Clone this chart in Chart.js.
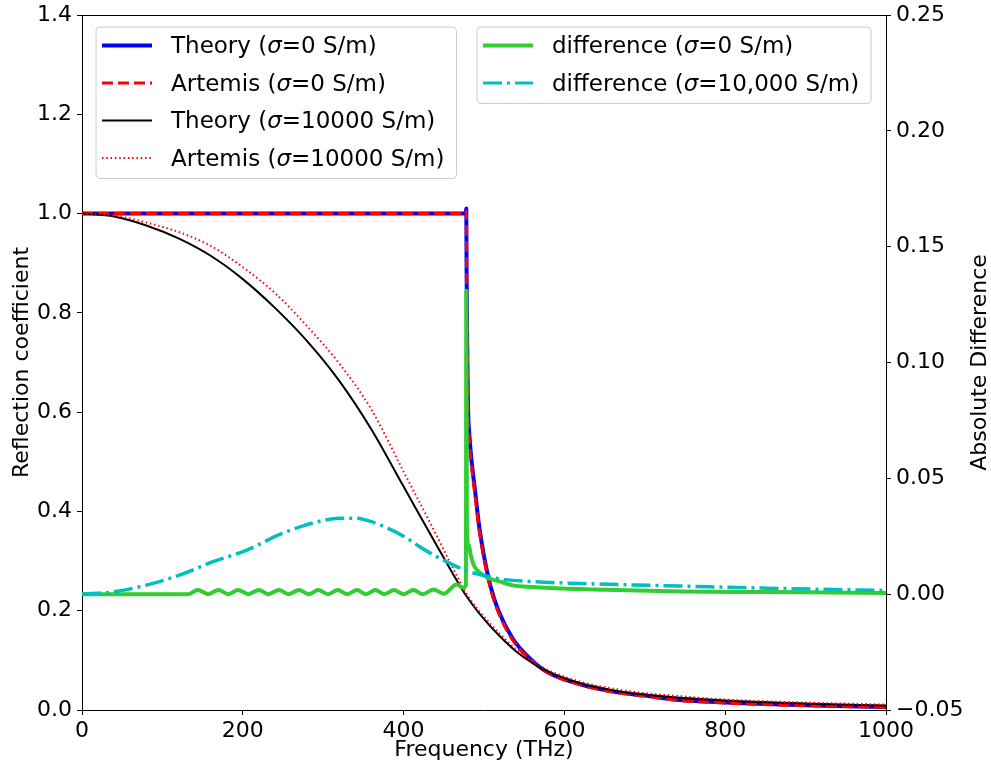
<!DOCTYPE html>
<html>
<head>
<meta charset="utf-8">
<script src="https://cdn.jsdelivr.net/npm/chart.js@4.4.0/dist/chart.umd.min.js"></script>
<style>
  body { margin: 0; background: #fff; }
  canvas { display: block; }
</style>
</head>
<body>
<canvas id="reflection" width="991" height="767"></canvas>
<script>
// --- data ---
var xTicks = [0, 200, 400, 600, 800, 1000];
var leftTicks = [0, 0.2, 0.4, 0.6, 0.8, 1.0, 1.2, 1.4];
var rightTicks = [-0.05, 0, 0.05, 0.1, 0.15, 0.2, 0.25];

// sigma = 0 S/m
var freqLossless = [0, 100, 200, 300, 400, 470, 477, 478, 478.3, 479, 480, 482, 485, 489, 494, 500, 508, 518, 536, 557, 578, 619, 661, 700, 744, 800, 850, 900, 950, 1000];
var theoryLossless = [1, 1, 1, 1, 1, 1, 1.0, 1.01, 0.9, 0.75, 0.62, 0.55, 0.495, 0.44, 0.37, 0.31, 0.25, 0.2, 0.143, 0.104, 0.077, 0.052, 0.037, 0.029, 0.02, 0.015, 0.012, 0.0095, 0.0075, 0.006];
var artemisLossless = [1, 1, 1, 1, 1, 1, 1.0, 1.005, 0.89, 0.74, 0.61, 0.54, 0.485, 0.43, 0.362, 0.305, 0.245, 0.196, 0.14, 0.102, 0.076, 0.051, 0.036, 0.028, 0.019, 0.014, 0.011, 0.009, 0.007, 0.0055];

// sigma = 10000 S/m
var freqLossy = [0, 40, 80, 120, 160, 200, 240, 280, 320, 360, 400, 440, 460, 480, 500, 520, 540, 560, 580, 620, 660, 700, 750, 800, 900, 1000];
var theoryLossy = [1.0, 0.994, 0.976, 0.95, 0.915, 0.868, 0.81, 0.743, 0.663, 0.565, 0.45, 0.335, 0.278, 0.225, 0.183, 0.148, 0.118, 0.095, 0.077, 0.054, 0.04, 0.031, 0.024, 0.019, 0.013, 0.009];
var artemisLossy = [1.0, 0.996, 0.982, 0.963, 0.935, 0.892, 0.84, 0.773, 0.698, 0.605, 0.48, 0.355, 0.29, 0.23, 0.188, 0.153, 0.122, 0.098, 0.08, 0.057, 0.043, 0.034, 0.027, 0.021, 0.015, 0.011];

// absolute difference, sigma = 0
var freqDiffLossless = [0, 132, 144, 157, 170, 182, 194, 207, 220, 232, 245, 257, 270, 282, 294, 306, 318, 330, 342, 353, 365, 376, 388, 400, 412, 424, 437, 450, 466, 474, 477.5, 478, 478.8, 481, 484, 488, 494, 500, 510, 520, 536, 560, 619, 650, 744, 850, 1000];
var diffLossless = [0, 0, 0.0018, 0, 0.0018, 0, 0.0018, 0, 0.0018, 0, 0.0018, 0, 0.0018, 0, 0.0018, 0, 0.0018, 0, 0.0018, 0, 0.0018, 0, 0.0018, 0, 0.0018, 0, 0.002, 0.0002, 0.0042, 0.0028, 0.004, 0.131, 0.028, 0.021, 0.016, 0.012, 0.0095, 0.008, 0.0064, 0.0054, 0.0038, 0.0031, 0.0022, 0.0019, 0.0012, 0.0009, 0.0005];

// absolute difference, sigma = 10000
var freqDiffLossy = [0, 39, 81, 122, 163, 205, 246, 275, 300, 320, 340, 358, 380, 400, 420, 441, 466, 480, 495, 520, 560, 620, 744, 850, 1000];
var diffLossy = [0, 0.001, 0.004, 0.0083, 0.014, 0.019, 0.0258, 0.0295, 0.0318, 0.0328, 0.0328, 0.0315, 0.0285, 0.025, 0.0205, 0.0162, 0.0119, 0.0098, 0.0085, 0.0066, 0.0054, 0.0046, 0.0035, 0.0026, 0.0016];

function pts(xs, ys) {
	return xs.map(function(x, i) { return {x: x, y: ys[i]}; });
}

Chart.defaults.font.family = '"DejaVu Sans", sans-serif';
Chart.defaults.font.size = 22;
Chart.defaults.color = '#000';

var LEGEND_FONT = 23;

// --- legend boxes, top spine and right title, drawn by hand ---
function drawLabel(ctx, text, x, y) {
	var parts = text.split('σ');
	ctx.fillStyle = '#000';
	ctx.textBaseline = 'middle';
	ctx.textAlign = 'left';
	ctx.font = LEGEND_FONT + 'px "DejaVu Sans"';
	ctx.fillText(parts[0], x, y);
	x += ctx.measureText(parts[0]).width;
	ctx.font = 'italic ' + LEGEND_FONT + 'px "DejaVu Sans"';
	ctx.fillText('σ', x, y);
	x += ctx.measureText('σ').width;
	ctx.font = LEGEND_FONT + 'px "DejaVu Sans"';
	ctx.fillText(parts[1], x, y);
}

function labelWidth(ctx, text) {
	var parts = text.split('σ');
	ctx.font = LEGEND_FONT + 'px "DejaVu Sans"';
	var w = ctx.measureText(parts[0]).width + ctx.measureText(parts[1]).width;
	ctx.font = 'italic ' + LEGEND_FONT + 'px "DejaVu Sans"';
	return w + ctx.measureText('σ').width;
}

function drawLegend(ctx, x, y, items) {
	var rowH = 37.5;
	var w = 0;
	items.forEach(function(it) { w = Math.max(w, labelWidth(ctx, it.label)); });
	w = 75 + w + 12;
	var h = 18 + (items.length - 1) * rowH + 21;
	ctx.save();
	ctx.beginPath();
	ctx.roundRect(x, y, w, h, 4);
	ctx.fillStyle = 'rgba(255,255,255,0.8)';
	ctx.fill();
	ctx.strokeStyle = '#cccccc';
	ctx.lineWidth = 1;
	ctx.stroke();
	items.forEach(function(it, i) {
		var ry = y + 18.5 + i * rowH;
		ctx.beginPath();
		ctx.setLineDash(it.dash || []);
		ctx.strokeStyle = it.color;
		ctx.lineWidth = it.width;
		ctx.moveTo(x + 6, ry);
		ctx.lineTo(x + 56, ry);
		ctx.stroke();
		ctx.setLineDash([]);
		drawLabel(ctx, it.label, x + 75, ry + 2);
	});
	ctx.restore();
}

var framePlugin = {
	id: 'frame',
	afterDraw: function(chart) {
		var ctx = chart.ctx, a = chart.chartArea;
		ctx.save();
		ctx.strokeStyle = '#000';
		ctx.lineWidth = 1;
		ctx.beginPath();
		ctx.moveTo(a.left, a.top + 0.5);
		ctx.lineTo(a.right, a.top + 0.5);
		ctx.stroke();

		// right axis title reads bottom-to-top, like matplotlib's
		ctx.translate(980, (a.top + a.bottom) / 2);
		ctx.rotate(-Math.PI / 2);
		ctx.font = '22px "DejaVu Sans"';
		ctx.fillStyle = '#000';
		ctx.textAlign = 'center';
		ctx.textBaseline = 'middle';
		ctx.fillText('Absolute Difference', 0, 0);
		ctx.restore();

		drawLegend(ctx, a.left + 14, a.top + 12, [
			{label: 'Theory (σ=0 S/m)', color: '#0000ff', width: 4},
			{label: 'Artemis (σ=0 S/m)', color: '#ff0000', width: 3, dash: [11, 5]},
			{label: 'Theory (σ=10000 S/m)', color: '#000000', width: 2},
			{label: 'Artemis (σ=10000 S/m)', color: '#ff0000', width: 2, dash: [1.5, 2.8]}
		]);
		drawLegend(ctx, a.left + 395, a.top + 12, [
			{label: 'difference (σ=0 S/m)', color: '#32cd32', width: 4},
			{label: 'difference (σ=10,000 S/m)', color: '#00bfbf', width: 3, dash: [19, 5, 3, 5]}
		]);
	}
};

var ctx = document.getElementById('reflection').getContext('2d');

var reflectionChart = new Chart(ctx, {
	type: 'line',
	data: {
		datasets: [{
			data: pts(freqLossless, theoryLossless),
			borderColor: '#0000ff',
			borderWidth: 4,
			yAxisID: 'y',
			order: 6
		}, {
			data: pts(freqLossless, artemisLossless),
			borderColor: '#ff0000',
			borderWidth: 3,
			borderDash: [11, 5],
			yAxisID: 'y',
			order: 5
		}, {
			data: pts(freqLossy, theoryLossy),
			borderColor: '#000000',
			borderWidth: 2,
			yAxisID: 'y',
			order: 4
		}, {
			data: pts(freqLossy, artemisLossy),
			borderColor: '#ff0000',
			borderWidth: 2,
			borderDash: [1.5, 2.8],
			yAxisID: 'y',
			order: 3
		}, {
			data: pts(freqDiffLossless, diffLossless),
			borderColor: '#32cd32',
			borderWidth: 4,
			yAxisID: 'y2',
			order: 2
		}, {
			data: pts(freqDiffLossy, diffLossy),
			borderColor: '#00bfbf',
			borderWidth: 3.5,
			borderDash: [19, 5, 3, 5],
			yAxisID: 'y2',
			order: 1
		}]
	},
	options: {
		responsive: false,
		animation: false,
		layout: { padding: { top: 15 } },
		elements: {
			point: { radius: 0 },
			line: { cubicInterpolationMode: 'monotone', borderJoinStyle: 'round', fill: false }
		},
		plugins: {
			legend: { display: false },
			tooltip: { enabled: false }
		},
		scales: {
			x: {
				type: 'linear',
				min: 0,
				max: 1000,
				afterBuildTicks: function(s) { s.ticks = xTicks.map(function(v) { return {value: v}; }); },
				afterFit: function(s) { s.height = 57; },
				ticks: { padding: 3, maxRotation: 0, callback: function(v) { return String(v); } },
				grid: { drawOnChartArea: false, tickLength: 5, color: '#000' },
				border: { color: '#000' },
				title: { display: true, text: 'Frequency (THz)', padding: { top: 0, bottom: 4 } }
			},
			y: {
				position: 'left',
				min: 0,
				max: 1.4,
				afterBuildTicks: function(s) { s.ticks = leftTicks.map(function(v) { return {value: v}; }); },
				afterFit: function(s) { s.width = 82; s.paddingTop = 0; s.paddingBottom = 0; },
				ticks: { padding: 5, callback: function(v) { return v.toFixed(1); } },
				grid: { drawOnChartArea: false, tickLength: 5, color: '#000' },
				border: { color: '#000' },
				title: { display: true, text: 'Reflection coefficient', padding: { top: 9, bottom: 0 } }
			},
			y2: {
				position: 'right',
				min: -0.05,
				max: 0.25,
				afterBuildTicks: function(s) { s.ticks = rightTicks.map(function(v) { return {value: v}; }); },
				afterFit: function(s) { s.width = 105; s.paddingTop = 0; s.paddingBottom = 0; },
				ticks: { padding: 5, callback: function(v) { return v.toFixed(2).replace('-', '\u2212'); } },
				grid: { drawOnChartArea: false, tickLength: 5, color: '#000' },
				border: { color: '#000' }
			}
		}
	},
	plugins: [framePlugin]
});
</script>
</body>
</html>
